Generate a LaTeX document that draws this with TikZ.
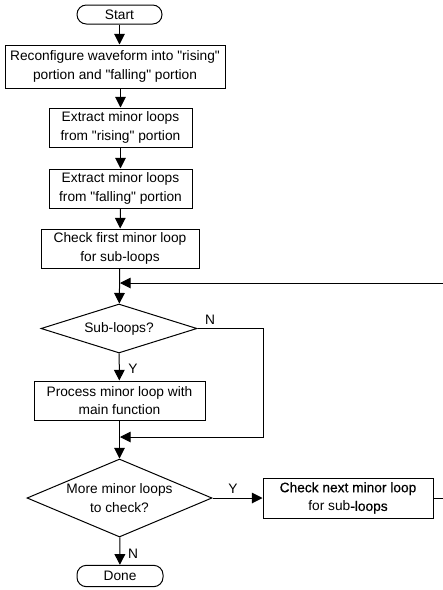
\documentclass[tikz,border=0pt]{standalone}
\usepackage{fontspec}
\setmainfont{Liberation Sans}[Ligatures=TeXOff]
\newfontfamily\heavyfont{Liberation Sans}[FakeBold=0.6,Ligatures=TeXOff]
\usetikzlibrary{arrows.meta,shapes.geometric}
\tikzset{
  px/.style={x=0.75pt,y=-0.75pt},
  flowbox/.style={draw,line width=0.75pt,inner sep=0pt,align=center,font=\fontsize{10.3}{14}\selectfont},
  term/.style={flowbox,rounded corners=7pt},
  decide/.style={draw,line width=0.75pt,diamond,inner sep=0pt,align=center,font=\fontsize{10.3}{14}\selectfont},
  conn/.style={line width=0.75pt},
  arr/.style={conn,-{Triangle[length=8pt,width=8pt]}},
  lbl/.style={font=\fontsize{10.3}{12}\selectfont,inner sep=0pt}
}
\begin{document}
\begin{tikzpicture}[px]
\useasboundingbox (0,0) rectangle (443,590);
\node[term,minimum width=63.75pt,minimum height=14.25pt] (start) at (119.5,14.5) {Start};
\node[flowbox,minimum width=165pt,minimum height=32.25pt] (b1) at (115,66.5) {Reconfigure waveform into "rising"\\portion and "falling" portion};
\node[flowbox,minimum width=107.25pt,minimum height=29.25pt] (b2) at (120.5,127.5) {Extract minor loops\\from "rising" portion};
\node[flowbox,minimum width=107.25pt,minimum height=29.25pt] (b3) at (120.5,188.5) {Extract minor loops\\from "falling" portion};
\node[flowbox,minimum width=118.5pt,minimum height=29.25pt] (b4) at (120,248.5) {Check first minor loop\\for sub-loops};
\node[decide,shape aspect=3.18,minimum width=117pt,minimum height=36.75pt] (d1) at (119,328.5) {Sub-loops?};
\node[flowbox,minimum width=128.25pt,minimum height=29.25pt] (b5) at (119.5,400.5) {Process minor loop with\\main function};
\node[decide,shape aspect=2.37,minimum width=138.75pt,minimum height=58.5pt] (d2) at (119.5,498) {More minor loops\\to check?};
\node[flowbox,minimum width=127.5pt,minimum height=30pt] (b6) at (348,498) {{\heavyfont Check next minor loop}\\for sub{\heavyfont -loops}};
\node[term,minimum width=64.5pt,minimum height=16pt] (done) at (120,576) {Done};
\coordinate (j1) at (120,283);
\coordinate (j2) at (120,437);
\coordinate (r1) at (263,328.5);
\coordinate (r2) at (263,437);
\coordinate (e1) at (444.5,498);
\coordinate (e2) at (444.5,283);
\draw[arr] (start) -- (start |- b1.north);
\draw[arr] (b2 |- b1.south) -- (b2.north);
\draw[arr] (b2) -- (b3);
\draw[arr] (b3) -- (b4);
\draw[arr] (b4) -- (d1);
\draw[arr] (d1) -- (b5);
\draw[arr] (b5) -- (d2);
\draw[arr] (d1.east) -- (r1) -- (r2) -- (j2);
\draw[arr] (d2) -- (b6);
\draw[arr] (b6.east) -- (e1) -- (e2) -- (j1);
\draw[arr] (d2) -- (done);
\node[lbl] (ln1) at (210,320) {N};
\node[lbl] (ly1) at (133,369) {Y};
\node[lbl] (ly2) at (233,489) {Y};
\node[lbl] (ln2) at (133,554) {N};
\end{tikzpicture}
\end{document}
